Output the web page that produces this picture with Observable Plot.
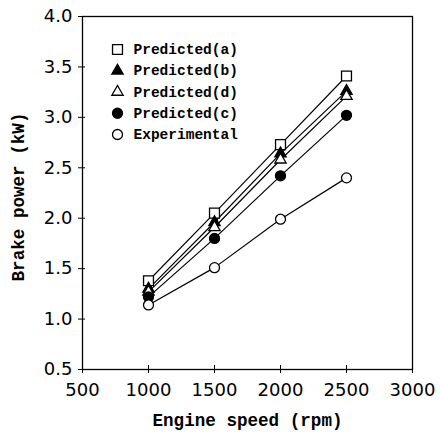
<!DOCTYPE html>
<html>
<head>
<meta charset="utf-8">
<script src="https://cdn.jsdelivr.net/npm/d3@7"></script>
<script src="https://cdn.jsdelivr.net/npm/@observablehq/plot@0.6"></script>
<style>
  html, body { margin: 0; padding: 0; background: #fff; }
  #chart { width: 440px; height: 434px; }
</style>
</head>
<body>
<div id="chart"></div>
<script>
const speeds = [1000, 1500, 2000, 2500];
const predictedA = [1.38, 2.05, 2.73, 3.41];
const predictedB = [1.30, 1.96, 2.64, 3.26];
const predictedD = [1.27, 1.91, 2.58, 3.21];
const predictedC = [1.22, 1.80, 2.42, 3.02];
const experimental = [1.14, 1.51, 1.99, 2.40];

const seriesNames = ["Predicted(a)", "Predicted(b)", "Predicted(d)", "Predicted(c)", "Experimental"];
const seriesValues = [predictedA, predictedB, predictedD, predictedC, experimental];
const seriesSymbols = ["square", "triangle", "triangle", "circle", "circle"];
const seriesFilled = [false, true, false, true, false];

const xTicks = [500, 1000, 1500, 2000, 2500, 3000];
const yTicks = [0.5, 1.0, 1.5, 2.0, 2.5, 3.0, 3.5, 4.0];

const rows = [];
seriesNames.forEach((name, i) => {
  speeds.forEach((s, j) => rows.push({series: name, idx: i, speed: s, power: seriesValues[i][j]}));
});

const symR = i => seriesSymbols[i] === "square" ? 5.6 : (seriesSymbols[i] === "triangle" ? 4.2 : 5);

const tickFont = {fontSize: 18, fontFamily: "DejaVu Sans", fill: "#000"};
const titleFont = {fontSize: 17.6, fontWeight: "bold", fontFamily: "Liberation Mono", fill: "#000"};

const marks = [
  Plot.frame({stroke: "#000", strokeWidth: 1.3}),
  Plot.axisX(xTicks, {anchor: "bottom", tickSize: 4, tickPadding: 10, tickFormat: d => String(d),
    ...tickFont, label: null, style: {letterSpacing: "0.6px"}}),
  Plot.axisX(xTicks, {anchor: "bottom", tickSize: -4, text: null, label: null}),
  Plot.axisY(yTicks, {anchor: "left", tickSize: 4, tickPadding: 6, tickFormat: d => d.toFixed(1),
    ...tickFont, label: null, style: {letterSpacing: "0.6px"}}),
  Plot.axisY(yTicks, {anchor: "left", tickSize: -3, text: null, label: null}),
  Plot.line(rows, {x: "speed", y: "power", z: "series", stroke: "#000", strokeWidth: 1.2}),
];

seriesNames.forEach((name, i) => {
  const pts = rows.filter(r => r.idx === i);
  marks.push(Plot.dot(pts, {x: "speed", y: "power", symbol: () => seriesSymbols[i], r: symR(i),
    stroke: "#000", strokeWidth: 1.3, fill: seriesFilled[i] ? "#000" : "#fff"}));
});

// legend
seriesNames.forEach((name, i) => {
  marks.push(Plot.dot([name], {frameAnchor: "top-left", dx: 35, dy: 33 + i * 21.25, symbol: () => seriesSymbols[i],
    r: symR(i), stroke: "#000", strokeWidth: 1.3, fill: seriesFilled[i] ? "#000" : "#fff"}));
  marks.push(Plot.text([name], {frameAnchor: "top-left", dx: 51, dy: 33 + i * 21.25, text: d => d, textAnchor: "start",
    fontSize: 14.5, fontWeight: "bold", fontFamily: "Liberation Mono", fill: "#000", lineAnchor: "middle"}));
});

// axis titles
marks.push(Plot.text(["Engine speed (rpm)"], {frameAnchor: "bottom", dy: 51, text: d => d, textAnchor: "middle",
  lineAnchor: "middle", ...titleFont}));
marks.push(Plot.text(["Brake power (kW)"], {frameAnchor: "left", dx: -64, dy: 4, text: d => d, rotate: -90,
  textAnchor: "middle", lineAnchor: "middle", ...titleFont}));

const chart = Plot.plot({
  width: 440,
  height: 434,
  marginLeft: 82,
  marginRight: 28,
  marginTop: 16,
  marginBottom: 65,
  style: {background: "#fff", color: "#000", overflow: "visible"},
  x: {domain: [500, 3000]},
  y: {domain: [0.5, 4.0]},
  marks
});
document.getElementById("chart").appendChild(chart);
</script>
</body>
</html>
